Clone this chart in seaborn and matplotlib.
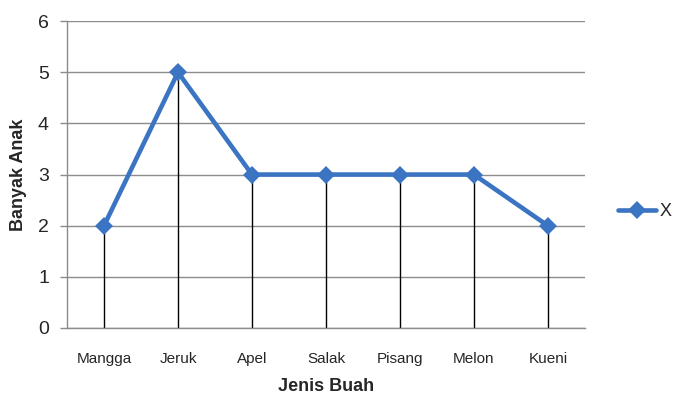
import matplotlib
matplotlib.use("Agg")
import matplotlib.pyplot as plt
import pandas as pd
import seaborn as sns

fruits = ["Mangga", "Jeruk", "Apel", "Salak", "Pisang", "Melon", "Kueni"]
children = [2, 5, 3, 3, 3, 3, 2]
series_name = "X"

LINE_COLOR = "#3a74c2"
GRID_COLOR = "#8c8c8c"

sns.set_theme(style="white")
plt.rcParams["font.family"] = ["Liberation Sans", "DejaVu Sans"]

df = pd.DataFrame({"Jenis Buah": fruits, "Banyak Anak": children, "series": series_name})
df["pos"] = range(len(fruits))

fig = plt.figure(figsize=(6.73, 3.99), dpi=100)
ax = fig.add_axes([0.0996, 0.178, 0.7695, 0.769])

# drop lines from each point down to the axis
ax.vlines(df["pos"], 0, df["Banyak Anak"], color="black", linewidth=1.0, zorder=2)

sns.lineplot(data=df, x="pos", y="Banyak Anak", hue="series", palette=[LINE_COLOR],
             marker="D", markersize=9, markeredgewidth=0, linewidth=3.3, ax=ax, zorder=3)

ax.set_xlim(-0.5, len(fruits) - 0.5)
ax.set_ylim(0, 6)
ax.set_yticks(range(0, 7))
ax.set_xticks(df["pos"])
ax.set_xticklabels(fruits, fontsize=11)
ax.tick_params(axis="x", length=0, pad=17)
ax.tick_params(axis="y", length=5, width=1, color=GRID_COLOR, labelsize=14, pad=8, direction="out", left=True)
ax.yaxis.grid(True, color=GRID_COLOR, linewidth=1.0)
ax.set_axisbelow(True)

for side in ["top", "right"]:
    ax.spines[side].set_visible(False)
for side in ["left", "bottom"]:
    ax.spines[side].set_color(GRID_COLOR)
    ax.spines[side].set_linewidth(1.0)

ax.set_xlabel("Jenis Buah", fontsize=13, fontweight="bold", labelpad=9)
ax.set_ylabel("Banyak Anak", fontsize=13, fontweight="bold", labelpad=8)

ax.legend(loc="center left", bbox_to_anchor=(1.04, 0.378), frameon=False, fontsize=13,
          handlelength=2.1, handletextpad=0.2, borderpad=0.2)

fig.savefig("out.png", dpi=100)
plt.close(fig)
